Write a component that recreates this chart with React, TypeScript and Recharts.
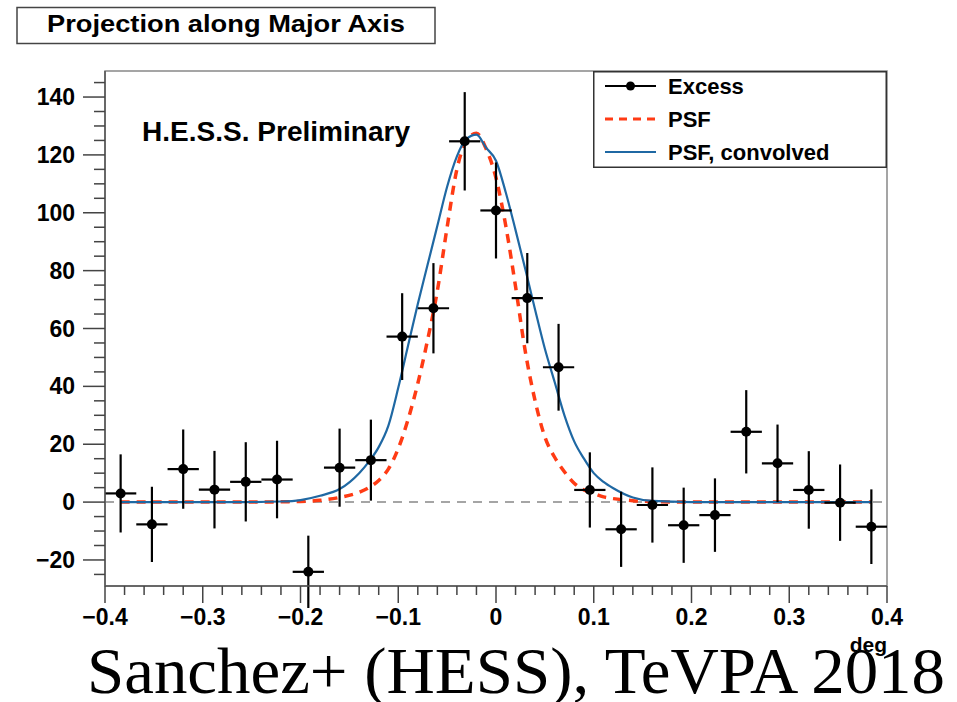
import {
  ComposedChart,
  ErrorBar,
  Legend,
  Line,
  ReferenceArea,
  ReferenceLine,
  Scatter,
  XAxis,
  YAxis,
} from "recharts";

// excess histogram (bin centers, counts, errors)
const binCenters = [
  -0.384, -0.352, -0.32, -0.288, -0.256, -0.224, -0.192, -0.16, -0.128, -0.096,
  -0.064, -0.032, 0, 0.032, 0.064, 0.096, 0.128, 0.16, 0.192, 0.224, 0.256,
  0.288, 0.32, 0.352, 0.384,
];
const excess = [
  3.0, -7.7, 11.4, 4.3, 7.0, 7.8, -24.1, 11.9, 14.5, 57.2, 67.0, 124.7, 100.8,
  70.5, 46.6, 4.2, -9.4, -1.0, -8.0, -4.5, 24.3, 13.4, 4.2, -0.2, -8.5,
];
const excessErr = [
  13.5, 13, 13.7, 13.4, 13.7, 13.4, 12.5, 13.5, 14, 15, 15.6, 17, 16.6, 15.6,
  15, 13, 13, 13, 13, 12.7, 14.4, 13.4, 13.4, 13.2, 12.9,
];
const binHalfWidth = 0.016;

// model curves
const curveX = [
  -0.384, -0.32, -0.26, -0.22, -0.2, -0.18, -0.16, -0.14, -0.13, -0.12, -0.11,
  -0.1, -0.09, -0.08, -0.07, -0.06, -0.05, -0.04, -0.03, -0.02, -0.01, 0, 0.01,
  0.02, 0.03, 0.04, 0.05, 0.06, 0.07, 0.08, 0.09, 0.1, 0.11, 0.12, 0.14, 0.16,
  0.2, 0.26, 0.32, 0.384,
];
const psf = [
  0, 0, 0, 0.1, 0.2, 0.6, 1.6, 3.4, 5, 7.5, 11.5, 18.5, 28.5, 41, 56, 73, 95,
  115, 125, 127.5, 122, 112, 95.5, 74.5, 52, 35, 22.5, 15.5, 10.5, 6.5, 4.2, 3,
  1.8, 1.2, 0.5, 0.2, 0, 0, 0, 0,
];
const psfConvolved = [
  0, 0, 0, 0.2, 0.7, 2.2, 4.5, 10, 14, 19, 26.5, 39.5, 54, 68.5, 82, 95.5, 109,
  119.5, 125.6, 127, 122.4, 118, 107, 94, 80.5, 66.5, 53, 41.5, 30, 21, 15, 10,
  7, 4.8, 1.6, 0.4, 0, 0, 0, 0,
];

const xMajor = [-0.4, -0.3, -0.2, -0.1, 0, 0.1, 0.2, 0.3, 0.4];
const xTickLabels = ["\u22120.4", "\u22120.3", "\u22120.2", "\u22120.1", "0", "0.1", "0.2", "0.3", "0.4"];
const yMajor = [-20, 0, 20, 40, 60, 80, 100, 120, 140];
const yTickLabels = ["\u221220", "0", "20", "40", "60", "80", "100", "120", "140"];

const xTicks: number[] = [];
for (let i = -20; i <= 20; i++) xTicks.push(Math.round(i * 2) / 100);
const yTicks: number[] = [];
for (let v = -25; v <= 145; v += 5) yTicks.push(v);

const points = binCenters.map((x, i) => ({
  x,
  y: excess[i],
  ey: excessErr[i],
  ex: binHalfWidth,
}));
const curves = curveX.map((x, i) => ({ x, psf: psf[i], conv: psfConvolved[i] }));

const RED = "#ff3b14";
const BLUE = "#1f68a3";
const FONT = "'Liberation Sans', Arial, Helvetica, sans-serif";

const XTick = (props: any) => {
  const { x, y, payload } = props;
  const i = xMajor.findIndex((v) => Math.abs(v - payload.value) < 1e-6);
  return (
    <g>
      <line x1={x} x2={x} y1={y} y2={y + (i >= 0 ? 17 : 9)} stroke="#444" strokeWidth={1.5} />
      {i >= 0 && (
        <text x={x} y={y + 39} textAnchor="middle" fontFamily={FONT} fontWeight="bold" fontSize={23} fill="#000">
          {xTickLabels[i]}
        </text>
      )}
    </g>
  );
};

const YTick = (props: any) => {
  const { x, y, payload } = props;
  const i = yMajor.indexOf(payload.value);
  return (
    <g>
      <line x1={x} x2={x - (i >= 0 ? 22 : 11)} y1={y} y2={y} stroke="#444" strokeWidth={1.5} />
      {i >= 0 && (
        <text x={x - 30} y={y + 8} textAnchor="end" fontFamily={FONT} fontWeight="bold" fontSize={23} fill="#000">
          {yTickLabels[i]}
        </text>
      )}
    </g>
  );
};

const legendItems = [
  { name: "Excess", color: "#000", dash: undefined as string | undefined, dot: true, width: 2 },
  { name: "PSF", color: RED, dash: "8 6", dot: false, width: 3 },
  { name: "PSF, convolved", color: BLUE, dash: undefined, dot: false, width: 2 },
];

const renderLegend = () => (
  <svg width={294} height={97} style={{ display: "block" }}>
    <rect x={0.75} y={0.75} width={292.5} height={95.5} fill="#fff" stroke="#333" strokeWidth={1.5} />
    {legendItems.map((item, i) => {
      const cy = 15 + i * 33;
      return (
        <g key={item.name}>
          <line x1={12} x2={63} y1={cy} y2={cy} stroke={item.color} strokeWidth={item.width} strokeDasharray={item.dash} />
          {item.dot && <circle cx={37.5} cy={cy} r={4.5} fill="#000" />}
          <text x={75} y={cy + 8} fontFamily={FONT} fontWeight="bold" fontSize={22} fill="#000">
            {item.name}
          </text>
        </g>
      );
    })}
  </svg>
);

export default function App() {
  return (
    <div style={{ position: "absolute", left: 0, top: 0, width: 957, height: 702, background: "#fff" }}>
      <ComposedChart width={957} height={702} margin={{ top: 71, right: 70, bottom: 0, left: 0 }}>
        <XAxis
          dataKey="x"
          type="number"
          domain={[-0.4, 0.4]}
          ticks={xTicks}
          interval={0}
          tickLine={false}
          tickSize={0}
          tickMargin={0}
          tick={<XTick />}
          height={116}
          axisLine={{ stroke: "#555", strokeWidth: 1.5 }}
        />
        <YAxis
          type="number"
          domain={[-29, 149]}
          allowDataOverflow
          ticks={yTicks}
          interval={0}
          tickLine={false}
          tickSize={0}
          tickMargin={0}
          tick={<YTick />}
          width={105}
          axisLine={{ stroke: "#555", strokeWidth: 1.5 }}
        />
        <ReferenceArea x1={-0.4} x2={0.4} y1={-29} y2={149} fill="none" stroke="#888" strokeWidth={1.5} />
        <ReferenceLine y={0} stroke="#888" strokeWidth={1.5} strokeDasharray="9 7" />
        <Legend
          layout="vertical"
          align="center"
          verticalAlign="middle"
          content={renderLegend}
          wrapperStyle={{ left: 593, top: 71, width: 294, height: 97 }}
        />
        <Line
          data={curves}
          dataKey="psf"
          name="PSF"
          type="monotone"
          stroke={RED}
          strokeWidth={3.5}
          strokeDasharray="9 7"
          dot={false}
          isAnimationActive={false}
        />
        <Line
          data={curves}
          dataKey="conv"
          name="PSF, convolved"
          type="monotone"
          stroke={BLUE}
          strokeWidth={2.2}
          dot={false}
          isAnimationActive={false}
        />
        <Scatter
          data={points}
          dataKey="y"
          name="Excess"
          fill="#000"
          shape={(p: any) => <circle cx={p.cx} cy={p.cy} r={5} fill="#000" />}
          isAnimationActive={false}
        >
          <ErrorBar dataKey="ey" direction="y" width={0} stroke="#000" strokeWidth={2.2} />
          <ErrorBar dataKey="ex" direction="x" width={0} stroke="#000" strokeWidth={2.2} />
        </Scatter>
      </ComposedChart>
      <svg
        width={957}
        height={702}
        style={{ position: "absolute", left: 0, top: 0, pointerEvents: "none" }}
      >
        <rect x={17} y={7.5} width={418} height={36} fill="#fff" stroke="#444" strokeWidth={1.5} />
        <text x={226} y={32} textAnchor="middle" fontFamily={FONT} fontWeight="bold" fontSize={24} textLength={358} lengthAdjust="spacingAndGlyphs">
          Projection along Major Axis
        </text>
        <text x={142} y={141} fontFamily={FONT} fontWeight="bold" fontSize={27} textLength={268} lengthAdjust="spacingAndGlyphs">
          H.E.S.S. Preliminary
        </text>
        <text x={887} y={652} textAnchor="end" fontFamily={FONT} fontWeight="bold" fontSize={21}>
          deg
        </text>
        <text x={87} y={693} fontFamily="'Liberation Serif', 'Times New Roman', serif" fontSize={66} textLength={858} lengthAdjust="spacingAndGlyphs">
          Sanchez+ (HESS), TeVPA 2018
        </text>
      </svg>
    </div>
  );
}
